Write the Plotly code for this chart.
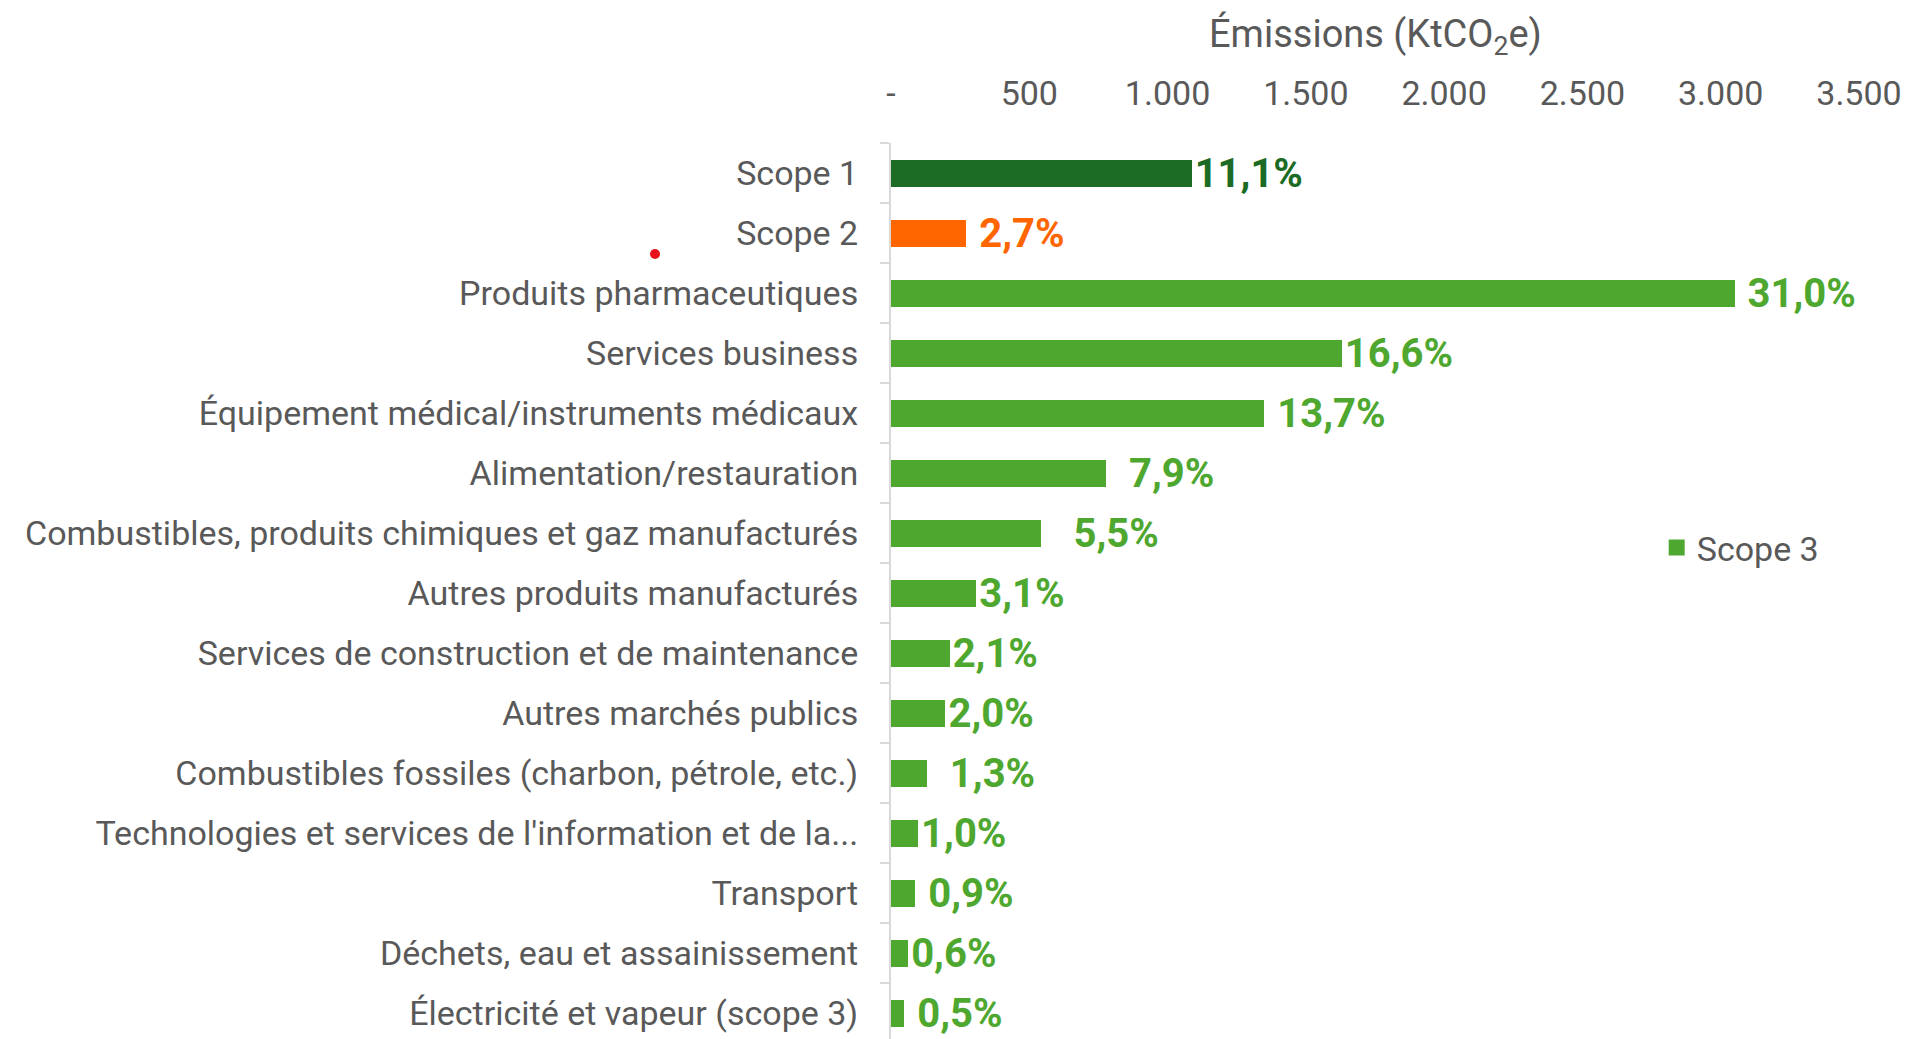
import plotly.graph_objects as go

categories = [
    "Scope 1",
    "Scope 2",
    "Produits pharmaceutiques",
    "Services business",
    "Équipement médical/instruments médicaux",
    "Alimentation/restauration",
    "Combustibles, produits chimiques et gaz manufacturés",
    "Autres produits manufacturés",
    "Services de construction et de maintenance",
    "Autres marchés publics",
    "Combustibles fossiles (charbon, pétrole, etc.)",
    "Technologies et services de l'information et de la...",
    "Transport",
    "Déchets, eau et assainissement",
    "Électricité et vapeur (scope 3)",
]
scopes = ["Scope 1", "Scope 2"] + ["Scope 3"] * 13
emissions = [1087, 272, 3050, 1630, 1350, 778, 541, 308, 212, 197, 130, 98, 88, 62, 48]
shares = ["11,1%", "2,7%", "31,0%", "16,6%", "13,7%", "7,9%", "5,5%", "3,1%",
          "2,1%", "2,0%", "1,3%", "1,0%", "0,9%", "0,6%", "0,5%"]
tick_values = [0, 500, 1000, 1500, 2000, 2500, 3000, 3500]
tick_labels = ["-", "500", "1.000", "1.500", "2.000", "2.500", "3.000", "3.500"]
axis_title = "Émissions (KtCO<sub>2</sub>e)"

# styling: extra gap (in non-breaking spaces) before each data label, as in the reference
label_pad = [0, 1, 1, 0, 1, 2, 3, 0, 0, 0, 2, 0, 1, 0, 1]

colors = {"Scope 1": "#1B6B25", "Scope 2": "#FF6600", "Scope 3": "#4EA72E"}
FONT = "Roboto"
GREY = "#595959"

W, H = 1906, 1039
L, T = 891, 143
PW = 968
R = W - L - PW
PH = H - T
ROW = 60

fig = go.Figure()
for scope in ["Scope 1", "Scope 2", "Scope 3"]:
    idx = [i for i, s in enumerate(scopes) if s == scope]
    fig.add_trace(go.Bar(
        y=[categories[i] for i in idx],
        x=[emissions[i] for i in idx],
        text=["\u00a0" * label_pad[i] + shares[i] for i in idx],
        orientation="h",
        name=scope,
        showlegend=False,
        marker=dict(color=colors[scope], line=dict(width=0)),
        textposition="outside",
        constraintext="none",
        cliponaxis=False,
        textfont=dict(family=FONT, size=40, color=colors[scope], weight="bold"),
    ))

# legend entry for Scope 3 (square marker)
fig.add_trace(go.Scatter(
    x=[None], y=[None], mode="markers", name="Scope 3",
    marker=dict(symbol="square", size=16, color=colors["Scope 3"]),
    showlegend=True,
))

fig.update_layout(
    width=W, height=H,
    margin=dict(l=L, r=R, t=T, b=0, pad=0),
    plot_bgcolor="white", paper_bgcolor="white",
    barmode="stack", bargap=0.55,
    font=dict(family=FONT, color=GREY, size=34),
    legend=dict(x=0.791, y=1 - (548 - T) / PH, xanchor="left", yanchor="middle",
                font=dict(family=FONT, size=34, color=GREY),
                bgcolor="rgba(0,0,0,0)"),
    xaxis=dict(
        side="top", range=[0, 3500], showgrid=False, zeroline=False,
        tickvals=tick_values, ticktext=tick_labels, ticks="",
        tickfont=dict(family=FONT, size=34, color=GREY),
        ticklabelstandoff=30, ticklabeloverflow="allow",
        showline=False, fixedrange=True,
    ),
    yaxis=dict(
        type="category", categoryorder="array", categoryarray=categories,
        range=[-0.5 + PH / ROW, -0.5], showgrid=False, zeroline=False,
        showline=True, linecolor="#D9D9D9", linewidth=2,
        ticks="outside", tickson="boundaries", ticklen=9, tickcolor="#D9D9D9", tickwidth=2,
        tickfont=dict(family=FONT, size=34, color=GREY),
        ticklabelstandoff=24,
    ),
    annotations=[dict(
        text=axis_title, x=0.5, y=1 + (T - 36) / PH, xref="paper", yref="paper",
        xanchor="center", yanchor="middle", showarrow=False,
        font=dict(family=FONT, size=38, color=GREY),
    )],
    shapes=[dict(
        type="circle", xref="paper", yref="paper",
        xsizemode="pixel", ysizemode="pixel",
        xanchor=(655 - L) / PW, yanchor=1 - (254 - T) / PH, x0=-5, x1=5, y0=-5, y1=5,
        fillcolor="#E8131B", line=dict(width=0),
    )],
)

fig.write_html(
    "out.html",
    config={"displayModeBar": False},
    post_script="document.body.style.margin='0px';document.body.style.overflow='hidden';",
)
